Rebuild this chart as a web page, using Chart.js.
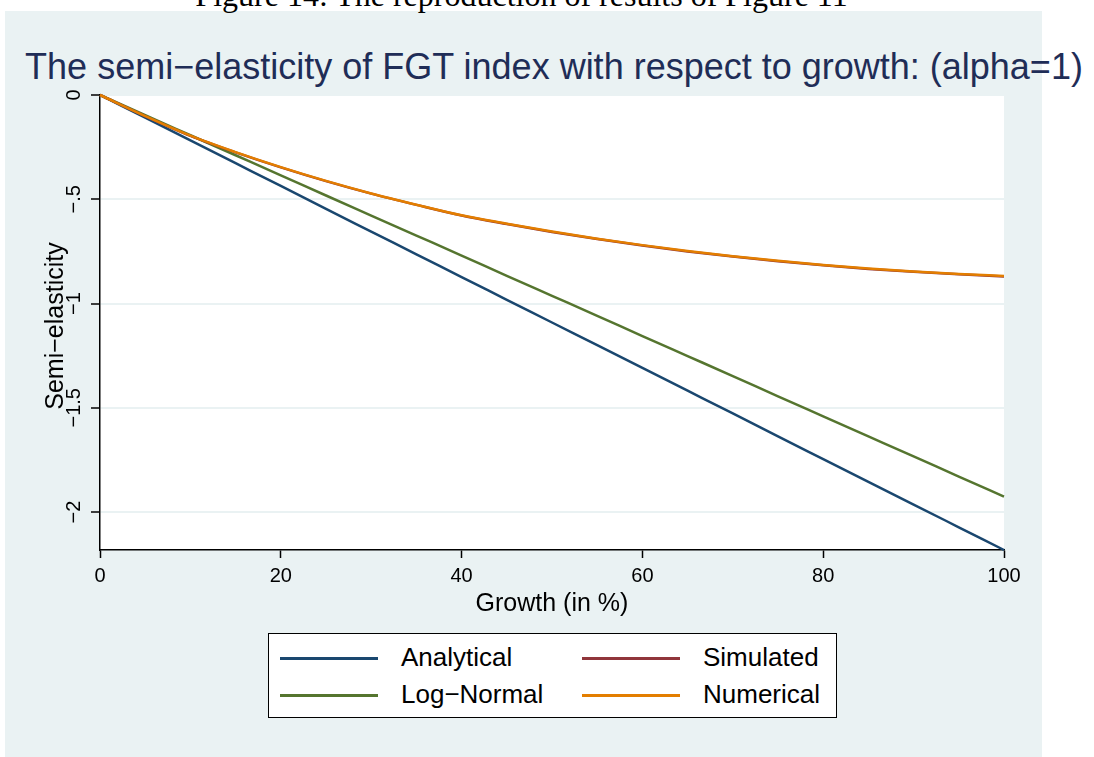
<!DOCTYPE html>
<html>
<head>
<meta charset="utf-8">
<script src="https://cdn.jsdelivr.net/npm/chart.js@4.4.1/dist/chart.umd.min.js"></script>
<style>
  html, body { margin: 0; padding: 0; background: #fff; }
  body { width: 1094px; height: 757px; position: relative; overflow: hidden;
         font-family: "Liberation Sans", Arial, Helvetica, sans-serif; }
  #panel { position: absolute; left: 5px; top: 11px; width: 1037px; height: 746px; background: #eaf2f3; }
  #caption { position: absolute; left: 0; top: -21px; width: 1043px; text-align: center;
             font-family: "Liberation Serif", "Times New Roman", serif; font-size: 32px;
             line-height: 32px; color: #000; white-space: nowrap; }
  #title { position: absolute; left: 0; top: 49px; width: 1108px; text-align: center;
           font-size: 36px; line-height: 36px; color: #1f2d57; white-space: nowrap; }
  canvas { position: absolute; left: 0; top: 0; }
  #legend { position: absolute; left: 268px; top: 633px; width: 569px; height: 85px;
            box-sizing: border-box; border: 1px solid #000; background: #fff; }
  .key { position: absolute; height: 3px; width: 98px; }
  .lab { position: absolute; font-size: 26px; line-height: 26px; color: #000; white-space: nowrap; }
</style>
</head>
<body>
<div id="panel"></div>
<div id="caption">Figure 14: The reproduction of results of Figure 11</div>
<div id="title">The semi−elasticity of FGT index with respect to growth: (alpha=1)</div>
<canvas id="chart" width="1094" height="757"></canvas>
<div id="legend"></div>
<script>
// growth in %, every 5 points
const growth = [0, 5, 10, 15, 20, 25, 30, 35, 40, 45, 50, 55, 60, 65, 70, 75, 80, 85, 90, 95, 100];

const analytical = [0, -0.109, -0.218, -0.327, -0.436, -0.546, -0.655, -0.764, -0.873, -0.982, -1.091,
                    -1.200, -1.309, -1.418, -1.527, -1.637, -1.746, -1.855, -1.964, -2.073, -2.182];
const simulated  = [0, -0.101, -0.196, -0.275, -0.347, -0.413, -0.473, -0.527, -0.578, -0.619, -0.657,
                    -0.691, -0.722, -0.750, -0.775, -0.797, -0.817, -0.834, -0.848, -0.860, -0.870];
const logNormal  = [0, -0.097, -0.193, -0.289, -0.385, -0.482, -0.578, -0.674, -0.770, -0.867, -0.963,
                    -1.059, -1.156, -1.252, -1.348, -1.445, -1.541, -1.637, -1.733, -1.830, -1.926];
const numerical  = [0, -0.101, -0.195, -0.274, -0.346, -0.412, -0.472, -0.526, -0.577, -0.617, -0.655,
                    -0.689, -0.720, -0.748, -0.773, -0.795, -0.815, -0.832, -0.846, -0.858, -0.868];

const xTicks = [0, 20, 40, 60, 80, 100];
const yTicks = [0, -0.5, -1, -1.5, -2];
const yTickLabels = ['0', '−.5', '−1', '−1.5', '−2'];

const series = [
  { label: 'Analytical', data: analytical, color: '#1a476f', order: 3 },
  { label: 'Simulated',  data: simulated,  color: '#90353b', order: 1 },
  { label: 'Log−Normal', data: logNormal,  color: '#55752f', order: 2 },
  { label: 'Numerical',  data: numerical,  color: '#e37e00', order: 0 }
];

const FONT = '"Liberation Sans", Arial, Helvetica, sans-serif';

const axisText = {
  id: 'axisText',
  beforeDraw(chart) {
    const { ctx, chartArea: a } = chart;
    ctx.save();
    ctx.fillStyle = '#fff';
    ctx.fillRect(a.left, a.top, a.right - a.left, a.bottom - a.top);
    ctx.restore();
  },
  afterDraw(chart) {
    const { ctx, scales: { x, y } } = chart;
    ctx.save();
    ctx.fillStyle = '#000';
    ctx.textAlign = 'center';
    ctx.textBaseline = 'alphabetic';
    ctx.font = '20px ' + FONT;
    yTicks.forEach((v, i) => {
      ctx.save();
      ctx.translate(80, y.getPixelForValue(v));
      ctx.rotate(-Math.PI / 2);
      ctx.fillText(yTickLabels[i], 0, 0);
      ctx.restore();
    });
    ctx.font = '25px ' + FONT;
    ctx.fillText('Growth (in %)', (x.left + x.right) / 2, 611);
    ctx.translate(63, 326);
    ctx.rotate(-Math.PI / 2);
    ctx.fillText('Semi−elasticity', 0, 0);
    ctx.restore();
  }
};

const chart = new Chart(document.getElementById('chart'), {
  type: 'line',
  data: {
    datasets: series.map(s => ({
      label: s.label,
      data: growth.map((g, i) => ({ x: g, y: s.data[i] })),
      borderColor: s.color,
      backgroundColor: s.color,
      borderWidth: 2.5,
      pointRadius: 0,
      cubicInterpolationMode: 'monotone',
      clip: false,
      order: s.order
    }))
  },
  options: {
    responsive: false,
    animation: false,
    devicePixelRatio: 1,
    layout: { padding: { left: 0, top: 95, right: 90, bottom: 167 } },
    plugins: { legend: { display: false }, tooltip: { enabled: false } },
    scales: {
      x: {
        type: 'linear', min: 0, max: 100,
        afterBuildTicks: s => { s.ticks = xTicks.map(v => ({ value: v })); },
        afterFit: s => { s.height = 40; },
        grid: { drawOnChartArea: false, tickLength: 8, tickColor: '#000', tickWidth: 1.5 },
        border: { color: '#000', width: 1.5 },
        ticks: { color: '#000', padding: 6, font: { family: FONT, size: 20 }, maxRotation: 0 }
      },
      y: {
        type: 'linear', min: -2.182, max: 0,
        afterBuildTicks: s => { s.ticks = yTicks.map(v => ({ value: v })); },
        afterFit: s => { s.width = 100; },
        grid: { color: '#eaf2f3', lineWidth: 2, tickLength: 9, tickColor: '#000', tickWidth: 1.5 },
        border: { color: '#000', width: 1.5 },
        ticks: { display: false }
      }
    }
  },
  plugins: [axisText]
});

// legend box, two columns filled row by row
const legend = document.getElementById('legend');
series.forEach((s, i) => {
  const col = i % 2, row = Math.floor(i / 2);
  const cy = 24 + row * 37;
  const key = document.createElement('div');
  key.className = 'key';
  key.style.left = (11 + col * 302) + 'px';
  key.style.top = (cy - 1.5) + 'px';
  key.style.background = s.color;
  legend.appendChild(key);
  const lab = document.createElement('div');
  lab.className = 'lab';
  lab.style.left = (132 + col * 302) + 'px';
  lab.style.top = (cy - 14) + 'px';
  lab.textContent = s.label;
  legend.appendChild(lab);
});
</script>
</body>
</html>
